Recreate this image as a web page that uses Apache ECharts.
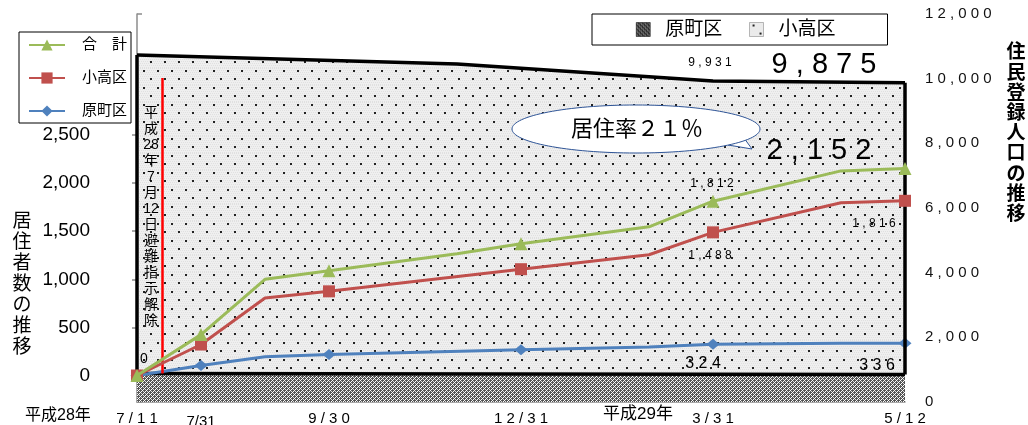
<!DOCTYPE html>
<html><head><meta charset="utf-8">
<script src="https://cdn.jsdelivr.net/npm/echarts/dist/echarts.min.js"></script>
<style>html,body{margin:0;padding:0;background:#fff;overflow:hidden}#c{width:1028px;height:425px}</style>
</head><body><div id="c"></div>
<script>
// ---- data (slot index = position on the x axis) ----
const tickLabels = ['7/11','7/31','','9/30','','','12/31','','','3/31','','','5/12'];
const yearLabels = ['平成28年','平成29年'];
const totalResidents     = [0, 425, 1000, 1090, null, 1265, 1370, null, 1546, 1812, null, 2127, 2152];
const odakaResidents     = [0, 322,  805,  875, null, null, 1105, null, 1255, 1488, null, 1795, 1816];
const haramachiResidents = [0, 104,  195,  218, null, null,  268, null,  295,  324, null,  334,  336];
const markerSlots = [0, 1, 3, 6, 9, 12];
const odakaRegistered     = [10730, null, null, null, null, 10455, null, null, null, 9931, null, null, 9875];
const haramachiRegistered = [880,   null, null, null, null, null,  null, null, null, null, null, null, 850];
const liftSlot = 0.4;          // 平成28年7月12日
const liftLineTop = 10020;
const leftAxis  = {min: 0, max: 2500,  interval: 500};
const rightAxis = {min: 0, max: 12000, interval: 2000};
const lineNames = ['合　計', '小高区', '原町区'];
const areaNames = ['原町区 ', '小高区 '];
const calloutText = '居住率２１％';
const liftText = ['平','成','28','年','7','月','12','日','避','難','指','示','解','除'];
const leftTitle = '居住者数の推移';
const rightTitle = '住民登録人口の推移';

const FONT = "'Liberation Sans', 'Noto Sans CJK JP', sans-serif";
const spaced = s => s.split('').join(' ');
const fmt = v => Number(v).toLocaleString('en-US');

// ---- patterns ----
function dotPattern() {
  const c = document.createElement('canvas'); c.width = 14; c.height = 17;
  const g = c.getContext('2d');
  g.fillStyle = '#efefef'; g.fillRect(0, 0, 14, 17);
  g.fillStyle = '#e0e0e0';
  for (let y = 0; y < 17; y += 2) for (let x = (y % 4 ? 1 : 0); x < 14; x += 2) g.fillRect(x, y, 1, 1);
  g.fillStyle = '#222';
  g.fillRect(3, 2, 2, 2); g.fillRect(10, 10, 2, 2);
  return c;
}
function hatchPattern(base, light) {
  const c = document.createElement('canvas'); c.width = 4; c.height = 4;
  const g = c.getContext('2d');
  g.fillStyle = base; g.fillRect(0, 0, 4, 4);
  g.fillStyle = light;
  [[0,0],[2,2],[1,3],[3,1]].forEach(p => g.fillRect(p[0], p[1], 1, 1));
  g.fillStyle = '#d8d8d8';
  [[1,1],[3,3]].forEach(p => g.fillRect(p[0], p[1], 1, 1));
  return c;
}
const dotFill = {image: dotPattern(), repeat: 'repeat'};
const hatchFill = {image: hatchPattern('#555555', '#ffffff'), repeat: 'repeat'};
const hatchIcon = {image: hatchPattern('#1e1e1e', '#777777'), repeat: 'repeat'};

function pts(arr, labels, forceSym) {
  const out = [];
  arr.forEach((v, i) => {
    if (v == null) return;
    const item = {value: [i, v]};
    if (!forceSym && !markerSlots.includes(i)) item.symbol = 'none';
    if (labels && labels[i]) {
      const L = labels[i];
      item.label = Object.assign({show: true, position: 'inside', color: '#000', fontFamily: FONT,
        formatter: p => spaced(fmt(p.value[1]))}, L);
      if (forceSym) { item.symbol = 'circle'; item.symbolSize = 1; item.itemStyle = {color: 'rgba(0,0,0,0)'}; }
    }
    out.push(item);
  });
  return out;
}

const chart = echarts.init(document.getElementById('c'));
chart.setOption({
  animation: false,
  backgroundColor: '#fff',
  textStyle: {fontFamily: FONT},
  grid: [
    {left: 137, right: 123, top: 135, bottom: 49.5, containLabel: false, outerBoundsMode: 'none'},
    {left: 137, right: 123, top: 14, bottom: 23, containLabel: false, outerBoundsMode: 'none'}
  ],
  xAxis: [
    {gridIndex: 0, type: 'value', min: 0, max: 12, show: false},
    {gridIndex: 1, type: 'value', min: 0, max: 12, interval: 1,
     axisLine: {show: true, lineStyle: {color: '#8c8c8c', width: 1.5}},
     axisTick: {show: false}, splitLine: {show: false},
     axisLabel: {margin: 9, color: '#000', fontSize: 15, fontFamily: FONT,
       formatter: v => { const t = tickLabels[v] || ''; if (!t) return ''; return v === 1 ? '{low|' + t + '}' : spaced(t); },
       rich: {low: {fontSize: 15, padding: [3, 0, 0, 0], color: '#000', fontFamily: FONT}}}}
  ],
  yAxis: [
    {gridIndex: 0, type: 'value', position: 'left', offset: 31,
     min: leftAxis.min, max: leftAxis.max, interval: leftAxis.interval,
     axisLine: {show: true, lineStyle: {color: '#8c8c8c', width: 1.5}},
     axisTick: {show: true, length: 5, lineStyle: {color: '#8c8c8c', width: 1.5}},
     splitLine: {show: false},
     axisLabel: {margin: 16, color: '#000', fontSize: 19, fontFamily: FONT, formatter: v => fmt(v)}},
    {gridIndex: 1, type: 'value', position: 'right', offset: 0,
     min: rightAxis.min, max: rightAxis.max, interval: rightAxis.interval,
     axisLine: {show: true, lineStyle: {color: '#8c8c8c', width: 1.5}},
     axisTick: {show: true, length: 5, lineStyle: {color: '#8c8c8c', width: 1.5}},
     splitLine: {show: false},
     axisLabel: {margin: 20, color: '#111', fontSize: 15, fontFamily: FONT, formatter: v => spaced(fmt(v))}}
  ],
  legend: [
    {data: lineNames, orient: 'vertical', left: 19, top: 32, itemWidth: 36, itemHeight: 14, itemGap: 15,
     borderColor: '#000', borderWidth: 1, padding: [4, 4, 3, 9], backgroundColor: '#fff',
     textStyle: {fontSize: 15, color: '#000', padding: [0, 0, 0, 12], lineHeight: 18, fontFamily: FONT}},
    {data: [
      {name: areaNames[0], icon: 'rect', itemStyle: {color: hatchIcon, borderColor: '#000', borderWidth: 0.5}},
      {name: areaNames[1], icon: 'rect', itemStyle: {color: dotFill, borderColor: '#777', borderWidth: 0.5}}],
     orient: 'horizontal', left: 592, top: 14, itemWidth: 14, itemHeight: 14, itemGap: 27,
     borderColor: '#000', borderWidth: 1, padding: [6, 52, 6, 44], backgroundColor: '#fff',
     formatter: n => n.trim(),
     textStyle: {fontSize: 19, color: '#000', padding: [0, 0, 0, 10], fontFamily: FONT}}
  ],
  series: [
    {name: areaNames[1], type: 'line', xAxisIndex: 1, yAxisIndex: 1, z: 1,
     data: pts(odakaRegistered, {
       9:  {fontSize: 12, offset: [-3, -18]},
       12: {fontSize: 29, offset: [-81, -18]}
     }, true),
     symbol: 'none', showSymbol: true, lineStyle: {color: '#000', width: 3.5},
     itemStyle: {color: '#000'},
     areaStyle: {color: dotFill, opacity: 1},
     markLine: {silent: true, symbol: ['none', 'none'], label: {show: false}, z: 5,
       lineStyle: {color: '#000', width: 3.5, type: 'solid'},
       data: [
         [{coord: [0, haramachiRegistered[0]]}, {coord: [0, odakaRegistered[0]]}],
         [{coord: [12, haramachiRegistered[12]]}, {coord: [12, odakaRegistered[12]]}],
         [{coord: [liftSlot, haramachiRegistered[0]], lineStyle: {color: '#ff0000', width: 2.5}},
          {coord: [liftSlot, liftLineTop]}]
       ]}},
    {name: areaNames[0], type: 'line', xAxisIndex: 1, yAxisIndex: 1, z: 2,
     data: pts(haramachiRegistered), symbol: 'none', showSymbol: false,
     lineStyle: {color: '#000', width: 3.5}, itemStyle: {color: '#000'},
     areaStyle: {color: hatchFill, opacity: 1}},
    {name: lineNames[0], type: 'line', xAxisIndex: 0, yAxisIndex: 0, z: 6,
     symbol: 'triangle', symbolSize: 13, showSymbol: true, showAllSymbol: true,
     lineStyle: {color: '#9bbb59', width: 3}, itemStyle: {color: '#9bbb59'},
     data: pts(totalResidents, {
       0:  {fontSize: 14, offset: [7, -16], formatter: p => fmt(p.value[1])},
       9:  {fontSize: 12, offset: [-1, -17]},
       12: {fontSize: 29, offset: [-86, -17]}
     })},
    {name: lineNames[1], type: 'line', xAxisIndex: 0, yAxisIndex: 0, z: 5,
     symbol: 'rect', symbolSize: 12, showSymbol: true, showAllSymbol: true,
     lineStyle: {color: '#c0504d', width: 3}, itemStyle: {color: '#c0504d'},
     data: pts(odakaResidents, {
       9:  {fontSize: 12, offset: [-3, 23]},
       12: {fontSize: 12, offset: [-31, 23]}
     })},
    {name: lineNames[2], type: 'line', xAxisIndex: 0, yAxisIndex: 0, z: 4,
     symbol: 'diamond', symbolSize: [13, 11], showSymbol: true, showAllSymbol: true,
     lineStyle: {color: '#4f81bd', width: 3}, itemStyle: {color: '#4f81bd'},
     data: pts(haramachiResidents, {
       9:  {fontSize: 16, offset: [-10, 19]},
       12: {fontSize: 16, offset: [-28, 22]}
     })}
  ],
  graphic: [
    {type: 'text', left: 25, top: 408, style: {text: yearLabels[0], fontSize: 16, fill: '#000', fontFamily: FONT}},
    {type: 'text', left: 603, top: 406, style: {text: yearLabels[1], fontSize: 17, fill: '#000', fontFamily: FONT}},
    {type: 'text', x: 151, y: 105, z: 10, style: {text: liftText.join('\n'), fontSize: 14, lineHeight: 16, align: 'center', fill: '#000', fontFamily: FONT}},
    {type: 'text', x: 22, y: 211, z: 10, style: {text: leftTitle.split('').join('\n'), fontSize: 19, lineHeight: 21, align: 'center', fill: '#000', fontFamily: FONT}},
    {type: 'text', x: 1016, y: 43, z: 10, style: {text: rightTitle.split('').join('\n'), fontSize: 19, fontWeight: 'bold', lineHeight: 20.2, align: 'center', fill: '#000', fontFamily: FONT}},
    {type: 'polygon', z: 10, shape: {points: [[728, 145], [752, 149], [744, 138]]}, style: {fill: '#fff', stroke: '#2f5597', lineWidth: 1}},
    {type: 'ellipse', z: 11, shape: {cx: 636, cy: 129, rx: 124, ry: 24}, style: {fill: '#fff', stroke: '#2f5597', lineWidth: 1}},
    {type: 'text', z: 12, x: 637, y: 130, style: {text: calloutText, fontSize: 22, fill: '#000', align: 'center', verticalAlign: 'middle', fontFamily: FONT}}
  ]
});
</script></body></html>
